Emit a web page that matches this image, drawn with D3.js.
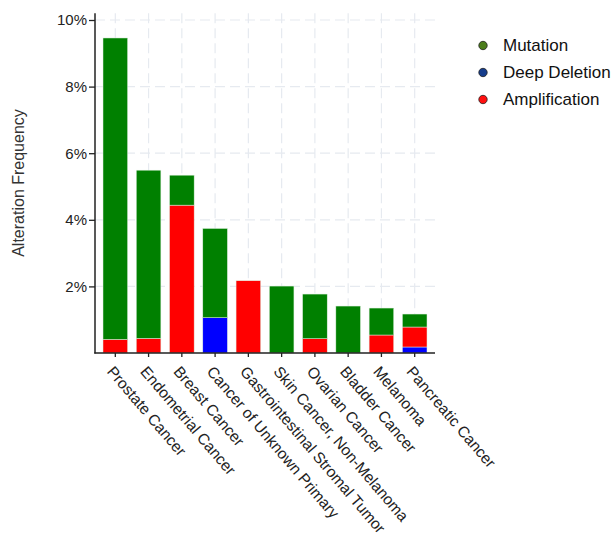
<!DOCTYPE html>
<html>
<head>
<meta charset="utf-8">
<script src="https://cdn.jsdelivr.net/npm/d3@7"></script>
<style>
  body { margin: 0; background: #fff; }
  text { font-family: "Liberation Sans", Arial, sans-serif; }
</style>
</head>
<body>
<svg id="chart" width="616" height="536"></svg>
<script>
// cancer types, left to right
let cancers = ['Prostate Cancer', 'Endometrial Cancer', 'Breast Cancer', 'Cancer of Unknown Primary',
  'Gastrointestinal Stromal Tumor', 'Skin Cancer, Non-Melanoma', 'Ovarian Cancer', 'Bladder Cancer',
  'Melanoma', 'Pancreatic Cancer']

// alteration frequency (%) per type
let deepDeletion = [0, 0, 0, 1.06, 0, 0, 0, 0, 0, 0.18]
let amplification = [0.41, 0.44, 4.44, 0, 2.17, 0, 0.43, 0, 0.54, 0.60]
let mutation = [9.05, 5.05, 0.90, 2.68, 0, 2.01, 1.34, 1.41, 0.81, 0.39]

let yTicks = [2, 4, 6, 8, 10]

let seriesNames = ['Mutation', 'Deep Deletion', 'Amplification']
let barColors = { 'Deep Deletion': '#0000ff', 'Amplification': '#ff0000', 'Mutation': '#008000' }
let legendColors = { 'Mutation': '#4b7d1b', 'Deep Deletion': '#163d8c', 'Amplification': '#ff1010' }

let rows = cancers.map((c, i) => ({
  cancer: c,
  'Deep Deletion': deepDeletion[i],
  'Amplification': amplification[i],
  'Mutation': mutation[i]
}))

let stack = d3.stack().keys(['Deep Deletion', 'Amplification', 'Mutation'])(rows)

let svg = d3.select('#chart')

let x = d3.scaleBand().domain(cancers).range([103, 427]).paddingInner(0.26).paddingOuter(0)
let y = d3.scaleLinear().domain([0, 10]).range([353, 20])

// dashed grid
let grid = svg.append('g')
grid.selectAll('.hgrid')
  .data(yTicks)
  .enter().append('line')
  .attr('x1', 95).attr('x2', 435)
  .attr('y1', d => y(d)).attr('y2', d => y(d))
  .attr('stroke', '#e6eaf0').attr('stroke-width', 1.2)
  .attr('stroke-dasharray', '10,5')
grid.selectAll('.vgrid')
  .data(cancers)
  .enter().append('line')
  .attr('x1', d => x(d) + x.bandwidth() / 2).attr('x2', d => x(d) + x.bandwidth() / 2)
  .attr('y1', y(10.2)).attr('y2', 353)
  .attr('stroke', '#e6eaf0').attr('stroke-width', 1.2)
  .attr('stroke-dasharray', '10,5')

// bars
svg.append('g').selectAll('g')
  .data(stack)
  .enter().append('g')
  .attr('fill', d => barColors[d.key])
  .selectAll('rect')
  .data(d => d)
  .enter().append('rect')
  .attr('x', d => x(d.data.cancer))
  .attr('y', d => y(d[1]))
  .attr('width', x.bandwidth())
  .attr('height', d => y(d[0]) - y(d[1]))
  .attr('stroke', d => (d[1] - d[0]) > 0 ? '#e0f0e0' : 'none')
  .attr('stroke-width', 0.5)

// y axis
let yAxis = svg.append('g')
  .attr('transform', 'translate(95,0)')
  .call(d3.axisLeft(y).tickValues(yTicks).tickSize(6).tickFormat(d => d + '%'))
yAxis.select('.domain').remove()
yAxis.selectAll('line').attr('stroke', '#222').attr('stroke-width', 1.3)
yAxis.selectAll('text').attr('font-size', 15).attr('fill', '#222').attr('x', -8)
  .style('font-family', '"Liberation Sans", Arial, sans-serif')
svg.append('line')
  .attr('x1', 95).attr('x2', 95).attr('y1', y(10.2)).attr('y2', 353.5)
  .attr('stroke', '#222').attr('stroke-width', 1.5)

// x axis
let xAxis = svg.append('g')
  .attr('transform', 'translate(0,353)')
  .call(d3.axisBottom(x).tickSize(4).tickFormat(''))
xAxis.select('.domain').remove()
xAxis.selectAll('line').attr('stroke', '#222').attr('stroke-width', 1.3)
svg.append('line')
  .attr('x1', 94.3).attr('x2', 435).attr('y1', 353).attr('y2', 353)
  .attr('stroke', '#222').attr('stroke-width', 1.5)

svg.append('g').selectAll('text')
  .data(cancers)
  .enter().append('text')
  .attr('transform', d => 'translate(' + (x(d) + x.bandwidth() / 2 - 9) + ',372) rotate(49.5)')
  .attr('font-size', 15.5)
  .attr('fill', '#222')
  .text(d => d)

// y label
svg.append('text')
  .attr('transform', 'translate(24,183) rotate(-90)')
  .attr('text-anchor', 'middle')
  .attr('font-size', 16)
  .attr('fill', '#333')
  .text('Alteration Frequency')

// legend
let legend = svg.append('g').selectAll('g')
  .data(seriesNames)
  .enter().append('g')
  .attr('transform', (d, i) => 'translate(483,' + (45.5 + i * 27) + ')')
legend.append('circle')
  .attr('r', 4.2)
  .attr('fill', d => legendColors[d])
  .attr('stroke', '#222').attr('stroke-width', 0.8)
legend.append('text')
  .attr('x', 20).attr('y', 5.5)
  .attr('font-size', 17)
  .attr('fill', '#111')
  .text(d => d)
</script>
</body>
</html>
